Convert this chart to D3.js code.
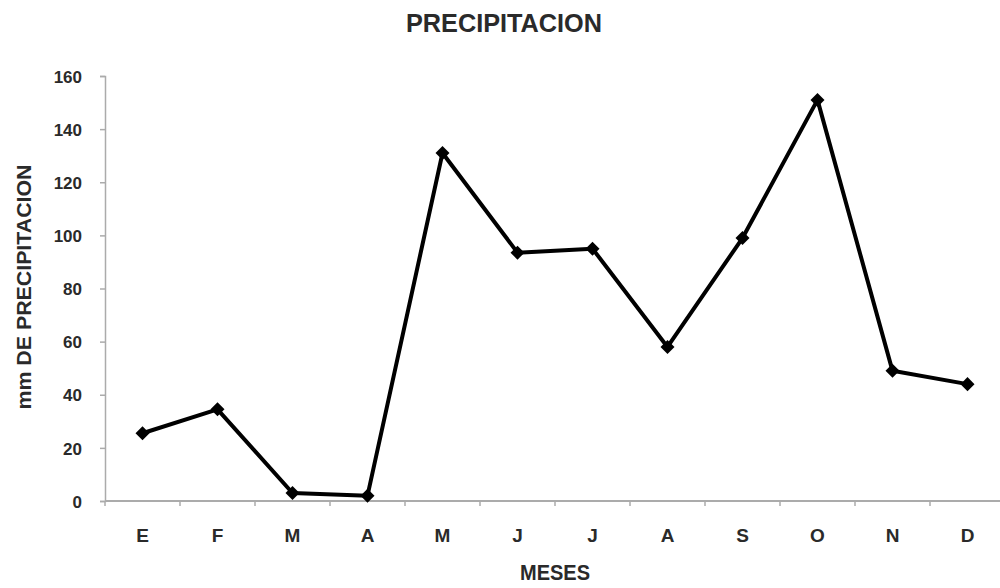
<!DOCTYPE html>
<html>
<head>
<meta charset="utf-8">
<script src="https://cdn.jsdelivr.net/npm/d3@7"></script>
<style>
  html, body { margin: 0; padding: 0; background: #fff; }
  svg { display: block; }
  text { font-family: "Liberation Sans", Arial, sans-serif; font-weight: bold; fill: #2a2a2a; }
</style>
</head>
<body>
<svg id="chart" width="1000" height="588"></svg>
<script>
// Monthly precipitation (mm)
const months = ["E", "F", "M", "A", "M", "J", "J", "A", "S", "O", "N", "D"];
const precipitation = [25.5, 34.5, 3, 2, 131, 93.5, 95, 58, 99, 151, 49, 44];
const yTicks = [0, 20, 40, 60, 80, 100, 120, 140, 160];

const titleText = "PRECIPITACION";
const xTitle = "MESES";
const yTitle = "mm DE PRECIPITACION";

const W = 1000, H = 588;
const margin = { top: 76, right: -5, bottom: 87, left: 105 };
const axisColor = "#ababab";

const svg = d3.select("#chart");

const x = d3.scaleBand()
  .domain(d3.range(months.length))
  .range([margin.left, W - margin.right])
  .paddingInner(0).paddingOuter(0);

const y = d3.scaleLinear()
  .domain([0, 160])
  .range([H - margin.bottom, margin.top]);

// Y axis
const yAxis = svg.append("g")
  .attr("transform", `translate(${margin.left},0)`)
  .call(d3.axisLeft(y).tickValues(yTicks).tickSize(5).tickPadding(18));
yAxis.select(".domain").attr("stroke", axisColor).attr("stroke-width", 1.5);
yAxis.selectAll(".tick line").attr("stroke", axisColor).attr("stroke-width", 1.5);
yAxis.selectAll(".tick text")
  .style("font-size", "17px")
  .attr("fill", "#2a2a2a")
  .attr("dy", "0.36em");

// X axis: ticks at band boundaries, labels centred in bands
const xAxisG = svg.append("g")
  .attr("transform", `translate(0,${y(0)})`);
xAxisG.append("line")
  .attr("x1", margin.left).attr("x2", W)
  .attr("stroke", axisColor).attr("stroke-width", 2);
xAxisG.selectAll("line.tk")
  .data(d3.range(months.length + 1))
  .join("line")
  .attr("class", "tk")
  .attr("x1", i => margin.left + i * x.bandwidth())
  .attr("x2", i => margin.left + i * x.bandwidth())
  .attr("y1", 0).attr("y2", 5)
  .attr("stroke", axisColor).attr("stroke-width", 1.5);
xAxisG.selectAll("text.lbl")
  .data(months)
  .join("text")
  .attr("class", "lbl")
  .attr("x", (d, i) => x(i) + x.bandwidth() / 2)
  .attr("y", 41)
  .attr("text-anchor", "middle")
  .style("font-size", "19px")
  .attr("fill", "#2a2a2a")
  .text(d => d);

// Line series
const cx = i => x(i) + x.bandwidth() / 2;
const line = d3.line()
  .x((d, i) => cx(i))
  .y(d => y(d));

svg.append("path")
  .datum(precipitation)
  .attr("fill", "none")
  .attr("stroke", "#000")
  .attr("stroke-width", 4)
  .attr("stroke-linejoin", "round")
  .attr("d", line);

// Diamond markers
const diamond = d3.symbol().type(d3.symbolDiamond2).size(125);
svg.selectAll("path.marker")
  .data(precipitation)
  .join("path")
  .attr("class", "marker")
  .attr("transform", (d, i) => `translate(${cx(i)},${y(d)})`)
  .attr("d", diamond)
  .attr("fill", "#000");

// Titles (condensed lettering)
svg.append("text")
  .attr("x", 504).attr("y", 32)
  .attr("text-anchor", "middle")
  .attr("textLength", 196)
  .attr("lengthAdjust", "spacingAndGlyphs")
  .style("font-size", "26px")
  .text(titleText);

svg.append("text")
  .attr("x", 555).attr("y", 580)
  .attr("text-anchor", "middle")
  .attr("textLength", 70)
  .attr("lengthAdjust", "spacingAndGlyphs")
  .style("font-size", "22px")
  .text(xTitle);

svg.append("text")
  .attr("transform", "translate(31,287) rotate(-90)")
  .attr("text-anchor", "middle")
  .attr("textLength", 245)
  .attr("lengthAdjust", "spacingAndGlyphs")
  .style("font-size", "20px")
  .text(yTitle);
</script>
</body>
</html>
